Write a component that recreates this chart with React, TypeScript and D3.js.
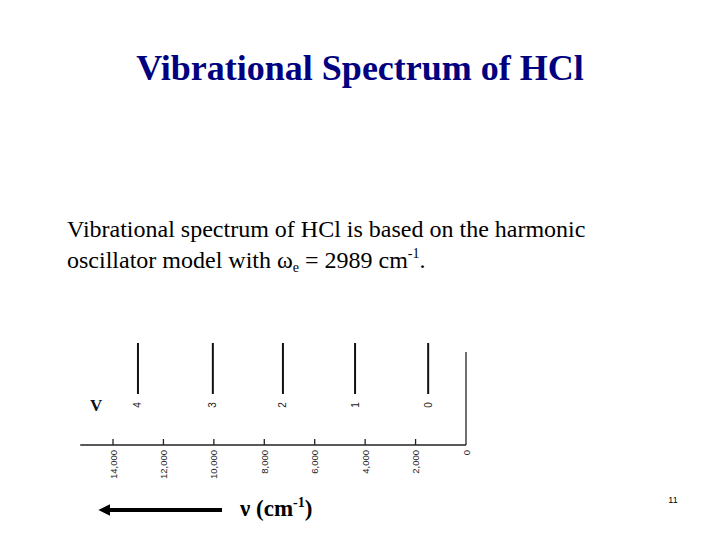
import React from "react";
import * as d3 from "d3";

const levels = ["0", "1", "2", "3", "4"];
const lineWavenumbers = [1500, 4400, 7260, 10040, 13010];
const tickValues = [0, 2000, 4000, 6000, 8000, 10000, 12000, 14000];

const titleText = "Vibrational Spectrum of HCl";

export default function App() {
  const x = d3.scaleLinear().domain([0, 14000]).range([466, 113]);
  const fmt = d3.format(",");
  const axisY = 445;
  return (
    <svg
      width={720}
      height={540}
      style={{ position: "absolute", left: 0, top: 0, background: "#fff" }}
    >
      <text
        x={360}
        y={80}
        textAnchor="middle"
        fontFamily="'Liberation Serif', 'Times New Roman', serif"
        fontWeight="bold"
        fontSize={36}
        fill="#000080"
      >
        {titleText}
      </text>
      <text
        x={67}
        y={237}
        fontFamily="'Liberation Serif', 'Times New Roman', serif"
        fontSize={24}
        fill="#000"
      >
        Vibrational spectrum of HCl is based on the harmonic
      </text>
      <text
        x={67}
        y={268}
        fontFamily="'Liberation Serif', 'Times New Roman', serif"
        fontSize={24}
        fill="#000"
      >
        oscillator model with ω
        <tspan fontSize={14} dy={4}>e</tspan>
        <tspan dy={-4}> = 2989 cm</tspan>
        <tspan fontSize={14} dy={-10}>-1</tspan>
        <tspan dy={10}>.</tspan>
      </text>

      {/* spectral lines */}
      {lineWavenumbers.map((w, i) => (
        <g key={i}>
          <line x1={x(w)} x2={x(w)} y1={343} y2={394} stroke="#111" strokeWidth={2} />
          <text
            transform={`translate(${x(w) + 3.5},${405}) rotate(-90)`}
            textAnchor="middle"
            fontFamily="Arial, 'Liberation Sans', sans-serif"
            fontSize={10}
            fill="#222"
          >
            {levels[i]}
          </text>
        </g>
      ))}
      <text
        x={90}
        y={411}
        fontFamily="'Liberation Serif', 'Times New Roman', serif"
        fontWeight="bold"
        fontSize={17}
        fill="#111"
      >
        V
      </text>

      {/* axis */}
      <line x1={x(15300)} x2={x(0)} y1={axisY} y2={axisY} stroke="#222" strokeWidth={1.3} />
      <line x1={x(0)} x2={x(0)} y1={352} y2={axisY} stroke="#222" strokeWidth={1.3} />
      {tickValues.map((t) => (
        <g key={t}>
          {t !== 0 && (
            <line x1={x(t)} x2={x(t)} y1={axisY - 6} y2={axisY} stroke="#222" strokeWidth={1.3} />
          )}
          <text
            transform={`translate(${x(t) + 3.5},${450}) rotate(-90)`}
            textAnchor="end"
            fontFamily="Arial, 'Liberation Sans', sans-serif"
            fontSize={9.5}
            fill="#222"
          >
            {fmt(t)}
          </text>
        </g>
      ))}

      {/* direction arrow */}
      <defs>
        <marker
          id="ah"
          viewBox="0 0 10 10"
          refX={2}
          refY={5}
          markerWidth={3}
          markerHeight={3}
          orient="auto"
        >
          <path d="M0,0 L10,5 L0,10 z" fill="#000" />
        </marker>
      </defs>
      <line
        x1={222}
        x2={108}
        y1={510}
        y2={510}
        stroke="#000"
        strokeWidth={4}
        markerEnd="url(#ah)"
      />
      <text
        x={240}
        y={516}
        fontFamily="'Liberation Serif', 'Times New Roman', serif"
        fontWeight="bold"
        fontSize={23}
        fill="#000"
      >
        ν (cm
        <tspan fontSize={14} dy={-9}>-1</tspan>
        <tspan dy={9}>)</tspan>
      </text>
      <text
        x={673}
        y={503}
        textAnchor="middle"
        fontFamily="Arial, 'Liberation Sans', sans-serif"
        fontSize={9}
        fill="#000"
      >
        11
      </text>
    </svg>
  );
}
